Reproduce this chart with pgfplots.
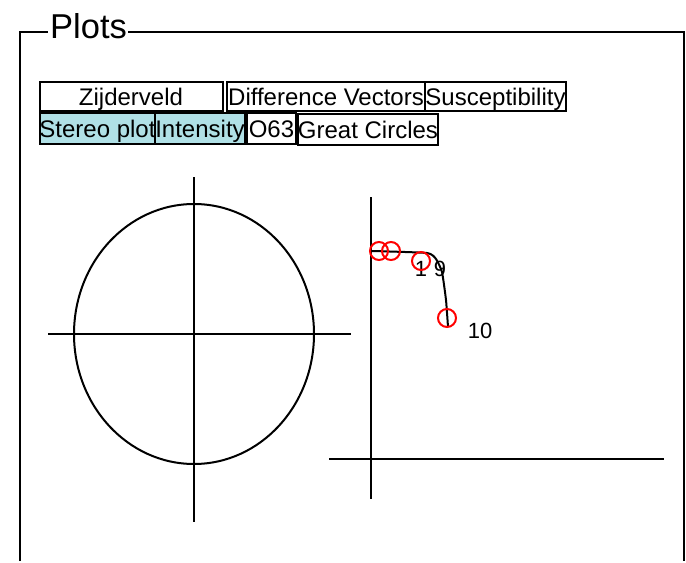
\documentclass[border=0pt]{standalone}
\usepackage{pgfplots}
\pgfplotsset{compat=1.18}
\usepackage{fontspec}
\setmainfont{Liberation Sans}
\definecolor{tabcyan}{RGB}{176,224,230}

\begin{document}
\begin{tikzpicture}
\begin{axis}[
    width=686pt, height=561pt,
    scale only axis,
    xmin=0, xmax=686,
    ymin=0, ymax=561,
    y dir=reverse,
    hide axis,
    clip=false,
]
% keep the whole canvas as bounding box
\path (rel axis cs:0,0) rectangle (rel axis cs:1,1);

% --- group frame with title ---
\draw[line width=2.2pt] (axis cs:20,561) -- (axis cs:20,32) -- (axis cs:48,32);
\draw[line width=2.2pt] (axis cs:128,32) -- (axis cs:684,32) -- (axis cs:684,561);
\node[anchor=base west, inner sep=0pt, font=\fontsize{34.5}{38}\selectfont]
    at (axis cs:50,38) {Plots};

% --- tab buttons, row 1 ---
\draw[line width=2.2pt] (axis cs:40,82) rectangle (axis cs:223,111);
\draw[line width=2.2pt] (axis cs:227,82) rectangle (axis cs:425,111);
\draw[line width=2.2pt] (axis cs:425,82) rectangle (axis cs:566,111);
% --- tab buttons, row 2 ---
\draw[line width=2.2pt, fill=tabcyan] (axis cs:40,113) rectangle (axis cs:155,144);
\draw[line width=2.2pt, fill=tabcyan] (axis cs:155,113) rectangle (axis cs:245,144);
\draw[line width=2.2pt] (axis cs:247,113) rectangle (axis cs:296,144);
\draw[line width=2.2pt] (axis cs:298,114) rectangle (axis cs:438,145);

\begin{scope}[every node/.style={anchor=base, inner sep=0pt, font=\fontsize{24}{26}\selectfont}]
\node at (axis cs:131,105) {Zijderveld};
\node at (axis cs:326,105) {Difference Vectors};
\node at (axis cs:495.5,105) {Susceptibility};
\node at (axis cs:97.5,137) {Stereo plot};
\node at (axis cs:200,137) {Intensity};
\node at (axis cs:271.5,137) {O63};
\node at (axis cs:368,138) {Great Circles};
\end{scope}

% --- stereo plot (left) ---
\draw[line width=2pt] (axis cs:194,334) ellipse [x radius=120, y radius=130];
\addplot[black, line width=2pt] coordinates {(48,334) (351,334)};
\addplot[black, line width=2pt] coordinates {(194,177) (194,522)};

% --- zijderveld-type plot (right) ---
\addplot[black, line width=2.5pt] coordinates {(371,197) (371,499)};
\addplot[black, line width=2.5pt] coordinates {(329,459) (664,459)};

\addplot[black, line width=2pt, smooth, tension=0.3] coordinates {
    (372,251) (427,253) (436,259) (442,272) (446,300) (448,327)
};
\addplot[only marks, mark=o, mark size=9pt, red, mark options={line width=2pt}]
    coordinates {(379,251) (391,251) (421,261) (447,318)};

\begin{scope}[every node/.style={anchor=base, inner sep=0pt, font=\fontsize{22}{24}\selectfont}]
\node at (axis cs:421,276) {1};
\node at (axis cs:440,276) {9};
\node at (axis cs:480,338) {10};
\end{scope}

\end{axis}
\end{tikzpicture}
\end{document}
